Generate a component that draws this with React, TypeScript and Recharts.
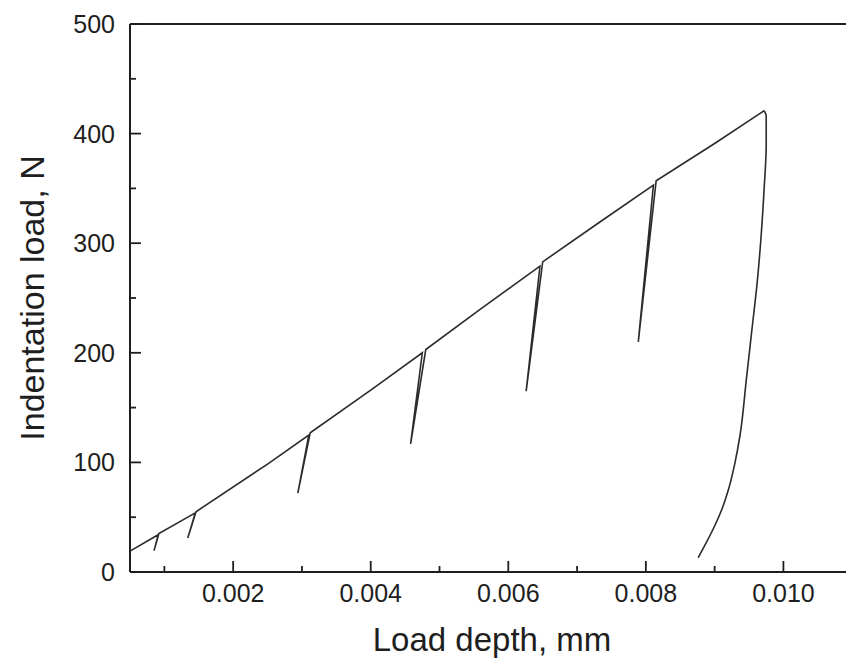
import React from 'react';
import { LineChart, Line, XAxis, YAxis, ReferenceLine } from 'recharts';

// Loading path with partial unload/reload loops
const loadDepth = [
  0.0005, 0.00091, 0.00085, 0.00092, 0.00145, 0.00134, 0.00146, 0.0025, 0.0031, 0.00294,
  0.00312, 0.004, 0.00475, 0.00458, 0.0048, 0.0056, 0.00646, 0.00626, 0.0065, 0.0073,
  0.00811, 0.00789, 0.00815, 0.009, 0.00965, 0.00972,
];
const loadForce = [
  19, 34, 19.5, 35, 54, 31, 55, 98.5, 125, 72,
  127, 166, 200, 117, 203, 240, 279, 165, 283, 318,
  353, 210, 357, 391, 418, 421,
];

// Final unloading curve
const unloadDepth = [
  0.00972, 0.00975, 0.00975, 0.00972, 0.00968, 0.00962, 0.00954, 0.00946, 0.00937, 0.00929,
  0.0092, 0.00911, 0.009, 0.00888, 0.00876,
];
const unloadForce = [
  421, 416, 390, 350, 310, 265, 220, 175, 125, 98,
  75, 58, 42, 27, 13,
];

const xMajorTicks = [0.002, 0.004, 0.006, 0.008, 0.01];
const xMinorTicks = [0.001, 0.003, 0.005, 0.007, 0.009];
const xTickLabels = ['0.002', '0.004', '0.006', '0.008', '0.010'];
const yMajorTicks = [0, 100, 200, 300, 400, 500];
const yMinorTicks = [50, 150, 250, 350, 450];

const xTitle = 'Load depth, mm';
const yTitle = 'Indentation load, N';

const loadingData = loadDepth.map((x, i) => ({ x, y: loadForce[i] }));
const unloadingData = unloadDepth.map((x, i) => ({ x, y: unloadForce[i] }));
const xTicks = [...xMinorTicks, ...xMajorTicks].sort((a, b) => a - b);
const yTicks = [...yMinorTicks, ...yMajorTicks].sort((a, b) => a - b);

const FONT = '"Liberation Sans", Arial, sans-serif';
const INK = '#1e1e1e';

const XTick = (props: any) => {
  const { x, y, payload } = props;
  const v = payload.value;
  const idx = xMajorTicks.findIndex((t) => Math.abs(t - v) < 1e-9);
  const major = idx >= 0;
  return (
    <g>
      <line x1={x} x2={x} y1={y} y2={y - (major ? 11 : 6)} stroke={INK} strokeWidth={1.8} />
      {major && (
        <text x={x} y={y + 30} textAnchor="middle" fontFamily={FONT} fontSize={25} fill={INK}>
          {xTickLabels[idx]}
        </text>
      )}
    </g>
  );
};

const YTick = (props: any) => {
  const { x, y, payload } = props;
  const v = payload.value;
  const major = yMajorTicks.includes(v);
  return (
    <g>
      <line x1={x} x2={x + (major ? 11 : 6)} y1={y} y2={y} stroke={INK} strokeWidth={1.8} />
      {major && (
        <text x={x - 15} y={y} dy="0.36em" textAnchor="end" fontFamily={FONT} fontSize={25} fill={INK}>
          {String(v)}
        </text>
      )}
    </g>
  );
};

const XTitle = (props: any) => {
  const vb = props.viewBox;
  return (
    <text x={vb.x + vb.width / 2 + 4} y={vb.y + 79} textAnchor="middle" fontFamily={FONT} fontSize={33} fill={INK}>
      {xTitle}
    </text>
  );
};

const YTitle = (props: any) => {
  const vb = props.viewBox;
  const cx = 44;
  const cy = vb.y + vb.height / 2;
  return (
    <text x={cx} y={cy} transform={`rotate(-90 ${cx} ${cy})`} textAnchor="middle" fontFamily={FONT} fontSize={34} fill={INK}>
      {yTitle}
    </text>
  );
};

export default function App() {
  return (
    <div style={{ position: 'absolute', left: 0, top: 0, width: 846, height: 660, background: '#fff' }}>
      <LineChart width={846} height={660} margin={{ top: 24, right: 0, bottom: 0, left: 0 }}>
        <XAxis
          type="number"
          dataKey="x"
          domain={[0.0005, 0.01091]}
          allowDataOverflow
          ticks={xTicks}
          interval={0}
          height={88}
          tickSize={0}
          tickMargin={0}
          tickLine={false}
          axisLine={{ stroke: INK, strokeWidth: 2 }}
          tick={<XTick />}
          label={<XTitle />}
        />
        <YAxis
          type="number"
          dataKey="y"
          domain={[0, 500]}
          allowDataOverflow
          ticks={yTicks}
          interval={0}
          width={130}
          tickSize={0}
          tickMargin={0}
          tickLine={false}
          axisLine={{ stroke: INK, strokeWidth: 2 }}
          tick={<YTick />}
          label={<YTitle />}
        />
        <ReferenceLine y={500} stroke={INK} strokeWidth={2} />
        <Line
          data={loadingData}
          type="linear"
          dataKey="y"
          stroke="#2b2b2b"
          strokeWidth={1.6}
          dot={false}
          isAnimationActive={false}
        />
        <Line
          data={unloadingData}
          type="monotoneY"
          dataKey="y"
          stroke="#2b2b2b"
          strokeWidth={1.6}
          dot={false}
          isAnimationActive={false}
        />
      </LineChart>
    </div>
  );
}
